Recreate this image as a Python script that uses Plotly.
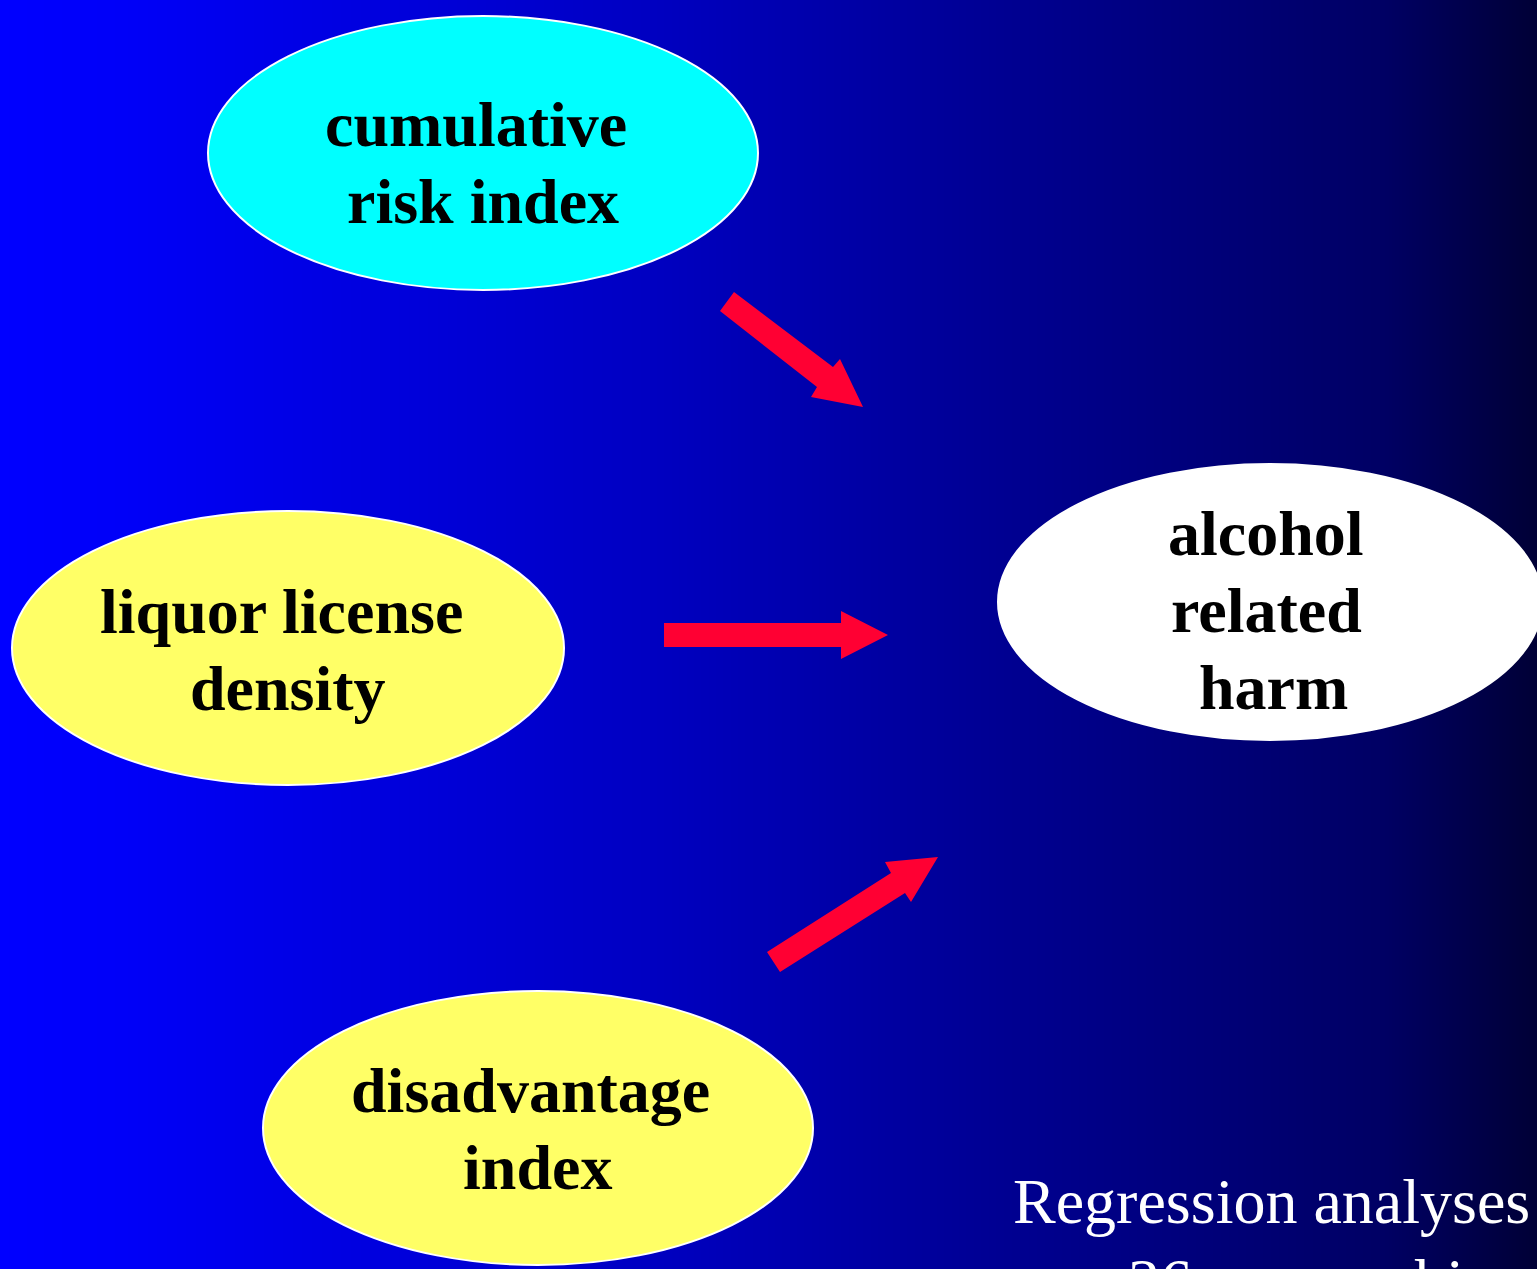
import plotly.graph_objects as go

# ---- diagram content ----
node_lines = [["cumulative", "risk index"],
              ["liquor license", "density"],
              ["disadvantage", "index"],
              ["alcohol", "related", "harm"]]
line_dx = [[-7, 0], [-7, 0], [-8, -1], [-4, -4, 3]]
node_fill = ["#00FFFF", "#FFFF66", "#FFFF66", "#FFFFFF"]
node_cx = [483, 288, 538, 1270]
node_cy = [153, 648, 1128, 602]
node_rx = [275, 276, 275, 272]
node_ry = [137, 137, 137, 138]
first_baseline = [149, 636, 1115, 558]

note_line1 = "Regression analyses"
note_line2 = "36 geographic areas"

W, H = 1537, 1269
FS = 64          # label font size
LS = 77          # line spacing (px)
fig = go.Figure()

# background horizontal gradient
fig.add_trace(go.Heatmap(
    x=[0, W], y=[0, H], z=[[0, 1], [0, 1]], zsmooth="best", showscale=False,
    hoverinfo="skip",
    colorscale=[[0, "#0000FF"], [0.08, "#0000F8"], [0.42, "#0000C2"],
                [0.65, "#000092"], [0.9, "#000064"], [1, "#000036"]]))

shapes = []
for cx, cy, rx, ry, col in zip(node_cx, node_cy, node_rx, node_ry, node_fill):
    shapes.append(dict(type="circle", xref="x", yref="y",
                       x0=cx - rx, x1=cx + rx, y0=cy - ry, y1=cy + ry,
                       fillcolor=col, line=dict(color="white", width=2), layer="above"))

arrows = [
    [(720, 311), (734, 292), (833, 367), (840, 359), (863, 407), (811, 397), (817, 387)],
    [(664, 623), (841, 623), (841, 611), (888, 635), (841, 659), (841, 647), (664, 647)],
    [(767, 952), (891, 873), (885, 862), (938, 857), (911, 902), (905, 893), (780, 972)],
]
for pts in arrows:
    path = "M " + " L ".join(f"{x},{y}" for x, y in pts) + " Z"
    shapes.append(dict(type="path", xref="x", yref="y", path=path,
                       fillcolor="#FF0033", line=dict(width=0), layer="above"))

annotations = []
for lines, dxs, cx, b0 in zip(node_lines, line_dx, node_cx, first_baseline):
    for i, (ln, dx) in enumerate(zip(lines, dxs)):
        base = b0 + i * LS
        annotations.append(dict(x=cx + dx, y=base - 0.38 * FS, xref="x", yref="y",
                                text=f"<b>{ln}</b>", showarrow=False,
                                xanchor="center", yanchor="middle",
                                font=dict(family="Liberation Serif", size=FS, color="black")))
annotations.append(dict(x=1271, y=1201, xref="x", yref="y", text=note_line1,
                        showarrow=False, xanchor="center", yanchor="middle",
                        font=dict(family="Liberation Serif", size=64, color="white")))
annotations.append(dict(x=1126, y=1244, xref="x", yref="y", text=note_line2,
                        showarrow=False, xanchor="left", yanchor="top",
                        font=dict(family="Liberation Serif", size=64, color="white")))

fig.update_layout(
    width=W, height=H, margin=dict(l=0, r=0, t=0, b=0),
    paper_bgcolor="#0000FF", plot_bgcolor="#0000FF",
    shapes=shapes, annotations=annotations, showlegend=False,
    xaxis=dict(range=[0, W], visible=False, fixedrange=True),
    yaxis=dict(range=[H, 0], visible=False, fixedrange=True),
)
fig.write_html("out.html", config={"displayModeBar": False},
               post_script="document.body.style.margin='0';document.body.style.overflow='hidden';")
